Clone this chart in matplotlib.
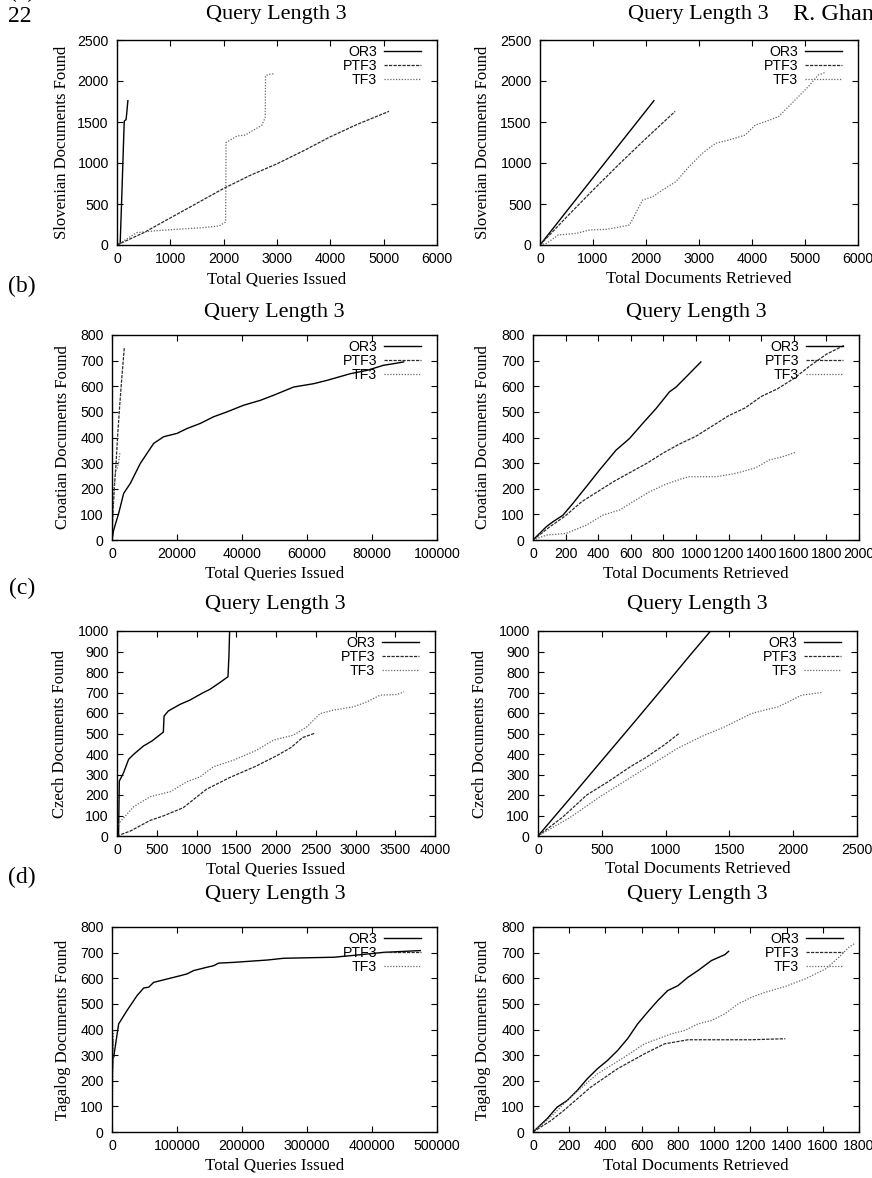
import matplotlib
matplotlib.use("Agg")
import matplotlib.pyplot as plt
import numpy as np

# ---------------- data ----------------
series_names = ["OR3", "PTF3", "TF3"]
title_text = "Query Length 3"

# (a) Slovenian vs queries
a_q_or3_x = [0, 60, 90, 130, 136, 170, 180, 204]
a_q_or3_y = [0, 20, 600, 1400, 1510, 1530, 1590, 1760]
a_q_ptf3_x = [0, 500, 1000, 1500, 2000, 2500, 3000, 3500, 4000, 4500, 5100]
a_q_ptf3_y = [0, 150, 330, 510, 690, 850, 990, 1150, 1320, 1470, 1630]
a_q_tf3_x = [0, 370, 680, 1111, 1605, 1914, 2037, 2045, 2253, 2407, 2530, 2716, 2778, 2785, 2840, 2944]
a_q_tf3_y = [0, 150, 171, 191, 211, 232, 280, 1250, 1329, 1341, 1390, 1459, 1553, 2061, 2081, 2089]

# (a) Slovenian vs documents
a_d_or3_x = [0, 1000, 2150]
a_d_or3_y = [0, 820, 1760]
a_d_ptf3_x = [0, 500, 1000, 1500, 2000, 2550]
a_d_ptf3_y = [0, 340, 670, 990, 1300, 1630]
a_d_tf3_x = [0, 125, 344, 687, 938, 1250, 1437, 1688, 1937, 2125, 2312, 2563, 2812, 3062, 3312, 3562, 3875,
             4062, 4250, 4500, 4812, 5062, 5250, 5375]
a_d_tf3_y = [0, 20, 122, 142, 183, 191, 211, 244, 549, 589, 671, 772, 955, 1118, 1240, 1280, 1341,
             1463, 1504, 1565, 1768, 1931, 2073, 2102]

# (b) Croatian vs queries
b_q_or3_x = [0, 513, 2051, 3590, 5641, 6667, 8718, 10769, 12820, 15897, 20000, 23077, 27179, 31282, 35385,
             40513, 45641, 49744, 55897, 62051, 66154, 73333, 78462, 83590, 86667, 89744]
b_q_or3_y = [0, 39, 104, 182, 221, 247, 299, 338, 377, 403, 416, 435, 455, 481, 500,
             526, 545, 565, 597, 610, 623, 649, 662, 682, 688, 695]
b_q_ptf3_x = [0, 300, 700, 1200, 1800, 2400, 3000, 3800]
b_q_ptf3_y = [0, 110, 200, 290, 420, 530, 630, 753]
b_q_tf3_x = [0, 300, 800, 1200, 1600, 2000, 2460]
b_q_tf3_y = [0, 120, 230, 270, 280, 300, 343]

# (b) Croatian vs documents
b_d_or3_x = [0, 82, 122, 184, 245, 327, 408, 510, 592, 673, 755, 837, 878, 939, 1030]
b_d_or3_y = [0, 52, 71, 97, 143, 208, 273, 351, 396, 455, 513, 578, 597, 636, 695]
b_d_ptf3_x = [0, 100, 200, 300, 400, 500, 600, 700, 800, 900, 1000, 1100, 1200, 1300, 1400, 1500, 1600,
              1700, 1800, 1910]
b_d_ptf3_y = [0, 50, 95, 150, 190, 230, 265, 300, 340, 375, 405, 445, 485, 515, 560, 590, 630,
              680, 725, 760]
b_d_tf3_x = [0, 82, 204, 327, 429, 531, 612, 714, 816, 918, 959, 1122, 1245, 1367, 1449, 1531, 1610]
b_d_tf3_y = [0, 19, 26, 58, 97, 117, 149, 188, 218, 240, 247, 247, 260, 282, 312, 325, 342]

# (c) Czech vs queries
c_q_or3_x = [0, 20, 29, 83, 146, 208, 333, 438, 521, 583, 592, 646, 792, 917, 1083, 1167, 1292, 1396, 1408, 1420]
c_q_or3_y = [0, 10, 268, 309, 374, 398, 439, 463, 488, 507, 585, 610, 642, 663, 699, 715, 748, 777, 878, 1050]
c_q_ptf3_x = [0, 167, 417, 583, 833, 1125, 1417, 1750, 2000, 2187, 2333, 2480]
c_q_ptf3_y = [0, 24, 76, 98, 138, 228, 285, 341, 390, 431, 480, 500]
c_q_tf3_x = [0, 10, 42, 209, 419, 670, 880, 1047, 1215, 1466, 1759, 1969, 2220, 2387, 2555, 2723, 2974,
             3141, 3309, 3518, 3610]
c_q_tf3_y = [0, 55, 70, 143, 192, 216, 265, 289, 338, 370, 419, 468, 492, 532, 597, 614, 630,
             654, 687, 690, 703]

# (c) Czech vs documents
c_d_or3_x = [0, 250, 500, 750, 1000, 1200, 1380]
c_d_or3_y = [0, 183, 368, 552, 738, 888, 1020]
c_d_ptf3_x = [0, 197, 382, 550, 724, 850, 987, 1105]
c_d_ptf3_y = [0, 94, 200, 265, 338, 385, 443, 500]
c_d_tf3_x = [0, 250, 487, 776, 1092, 1276, 1461, 1671, 1776, 1882, 1987, 2066, 2224]
c_d_tf3_y = [0, 90, 192, 305, 427, 484, 532, 597, 614, 630, 662, 687, 700]

# (d) Tagalog vs queries
d_q_or3_x = [0, 1500, 2564, 10256, 23077, 38462, 48718, 56410, 64103, 84615, 105128, 115385, 125641, 146154,
             156410, 164103, 187179, 238462, 264103, 341026, 366667, 417949, 474359]
d_q_or3_y = [200, 300, 292, 422, 474, 532, 562, 565, 584, 597, 610, 617, 630, 643,
             649, 659, 662, 671, 678, 682, 688, 701, 708]
d_q_ptf3_x = [0, 500, 1000, 1400]
d_q_ptf3_y = [0, 150, 300, 360]
d_q_tf3_x = [0, 1000, 2000, 2500]
d_q_tf3_y = [0, 180, 360, 400]

# (d) Tagalog vs documents
d_d_or3_x = [0, 78, 133, 189, 244, 300, 356, 411, 467, 522, 578, 633, 689, 744, 800, 856, 911, 985, 1059, 1080]
d_d_or3_y = [0, 52, 97, 123, 162, 208, 247, 279, 318, 364, 422, 468, 513, 552, 571, 604, 630, 669, 692, 705]
d_d_ptf3_x = [0, 100, 170, 319, 467, 615, 726, 856, 1000, 1200, 1393]
d_d_ptf3_y = [0, 45, 84, 175, 247, 305, 344, 360, 360, 360, 364]
d_d_tf3_x = [0, 100, 207, 356, 504, 615, 763, 837, 911, 985, 1059, 1133, 1207, 1281, 1393, 1504, 1615,
             1689, 1744, 1781]
d_d_tf3_y = [0, 60, 136, 227, 292, 344, 383, 396, 422, 435, 461, 500, 526, 545, 568, 598, 636,
             682, 721, 738]

# ---------------- layout ----------------
W, H = 872, 1178
fig = plt.figure(figsize=(W / 100, H / 100), dpi=100)

serif = ["Liberation Serif", "DejaVu Serif"]
sans = ["Liberation Sans", "DejaVu Sans"]

styles = [
    dict(color="#000000", lw=1.0, ls="-"),
    dict(color="#2a2a2a", lw=0.9, ls=(0, (2.6, 1.0))),
    dict(color="#666666", lw=0.9, ls=(0, (1.0, 1.3))),
]

panels = [
    dict(box=(117, 437, 40, 245), xlim=(0, 6000), xs=1000, ylim=(0, 2500), ys=500,
         data=[(a_q_or3_x, a_q_or3_y), (a_q_ptf3_x, a_q_ptf3_y), (a_q_tf3_x, a_q_tf3_y)],
         xl="Total Queries Issued", yl="Slovenian Documents Found", tc=(276, 14), xly=279, ylx=62),
    dict(box=(540, 858, 40, 245), xlim=(0, 6000), xs=1000, ylim=(0, 2500), ys=500,
         data=[(a_d_or3_x, a_d_or3_y), (a_d_ptf3_x, a_d_ptf3_y), (a_d_tf3_x, a_d_tf3_y)],
         xl="Total Documents Retrieved", yl="Slovenian Documents Found", tc=(698, 14), xly=279, ylx=483),
    dict(box=(112, 437, 335, 540), xlim=(0, 100000), xs=20000, ylim=(0, 800), ys=100,
         data=[(b_q_or3_x, b_q_or3_y), (b_q_ptf3_x, b_q_ptf3_y), (b_q_tf3_x, b_q_tf3_y)],
         xl="Total Queries Issued", yl="Croatian Documents Found", tc=(274, 312), xly=574, ylx=63),
    dict(box=(533, 859, 335, 540), xlim=(0, 2000), xs=200, ylim=(0, 800), ys=100,
         data=[(b_d_or3_x, b_d_or3_y), (b_d_ptf3_x, b_d_ptf3_y), (b_d_tf3_x, b_d_tf3_y)],
         xl="Total Documents Retrieved", yl="Croatian Documents Found", tc=(696, 312), xly=574, ylx=483),
    dict(box=(117, 435, 631, 836), xlim=(0, 4000), xs=500, ylim=(0, 1000), ys=100,
         data=[(c_q_or3_x, c_q_or3_y), (c_q_ptf3_x, c_q_ptf3_y), (c_q_tf3_x, c_q_tf3_y)],
         xl="Total Queries Issued", yl="Czech Documents Found", tc=(275, 605), xly=869, ylx=60),
    dict(box=(538, 857, 631, 836), xlim=(0, 2500), xs=500, ylim=(0, 1000), ys=100,
         data=[(c_d_or3_x, c_d_or3_y), (c_d_ptf3_x, c_d_ptf3_y), (c_d_tf3_x, c_d_tf3_y)],
         xl="Total Documents Retrieved", yl="Czech Documents Found", tc=(697, 605), xly=869, ylx=480),
    dict(box=(112, 437, 927, 1132), xlim=(0, 500000), xs=100000, ylim=(0, 800), ys=100,
         data=[(d_q_or3_x, d_q_or3_y), (d_q_ptf3_x, d_q_ptf3_y), (d_q_tf3_x, d_q_tf3_y)],
         xl="Total Queries Issued", yl="Tagalog Documents Found", tc=(275, 895), xly=1166, ylx=63),
    dict(box=(533, 859, 927, 1132), xlim=(0, 1800), xs=200, ylim=(0, 800), ys=100,
         data=[(d_d_or3_x, d_d_or3_y), (d_d_ptf3_x, d_d_ptf3_y), (d_d_tf3_x, d_d_tf3_y)],
         xl="Total Documents Retrieved", yl="Tagalog Documents Found", tc=(697, 895), xly=1166, ylx=483),
]

for p in panels:
    l, r, t, b = p["box"]
    ax = fig.add_axes([l / W, 1 - b / H, (r - l) / W, (b - t) / H])
    handles = []
    for (xs, ys), name, st in zip(p["data"], series_names, styles):
        h, = ax.plot(xs, ys, color=st["color"], lw=st["lw"], linestyle=st["ls"], label=name)
        handles.append(h)
    ax.set_xlim(*p["xlim"])
    ax.set_ylim(*p["ylim"])
    ax.set_xticks(np.arange(p["xlim"][0], p["xlim"][1] + 1, p["xs"]))
    ax.set_yticks(np.arange(p["ylim"][0], p["ylim"][1] + 1, p["ys"]))
    ax.ticklabel_format(style="plain", useOffset=False)
    ax.tick_params(direction="in", top=True, right=True, length=4, width=0.8,
                   labelsize=10.2, pad=5)
    ax.tick_params(axis="y", pad=6)
    for lab in ax.get_xticklabels() + ax.get_yticklabels():
        lab.set_family(sans)
    for s in ax.spines.values():
        s.set_linewidth(1.0)
    wpx, hpx = r - l, b - t
    ax.legend(handles=handles, loc="upper right",
              bbox_to_anchor=(1 - 16 / wpx, 1 - 5 / hpx),
              frameon=False, markerfirst=False, borderpad=0, borderaxespad=0,
              handlelength=2.6, handletextpad=0.5, labelspacing=0.0,
              prop={"family": sans, "size": 10.2})
    fig.text(p["tc"][0] / W, 1 - p["tc"][1] / H, title_text, ha="center", va="center",
             family=serif, fontsize=16)
    fig.text((l + r) / 2 / W, 1 - p["xly"] / H, p["xl"], ha="center", va="center",
             family=serif, fontsize=12.2)
    fig.text(p["ylx"] / W, 1 - (t + b) / 2 / H, p["yl"], ha="center", va="center",
             rotation=90, family=serif, fontsize=12)

# page decorations
fig.text(20 / W, 1 - 16 / H, "22", ha="center", va="center", family=serif, fontsize=17)
fig.text(22 / W, 1 + 9 / H, "(a)", ha="center", va="center", family=serif, fontsize=17)
fig.text(793 / W, 1 - 14 / H, "R. Ghani", ha="left", va="center", family=serif, fontsize=17.5)
fig.text(22 / W, 1 - 286 / H, "(b)", ha="center", va="center", family=serif, fontsize=17)
fig.text(22 / W, 1 - 588 / H, "(c)", ha="center", va="center", family=serif, fontsize=17)
fig.text(22 / W, 1 - 877 / H, "(d)", ha="center", va="center", family=serif, fontsize=17)

fig.savefig("out.png", dpi=100)
